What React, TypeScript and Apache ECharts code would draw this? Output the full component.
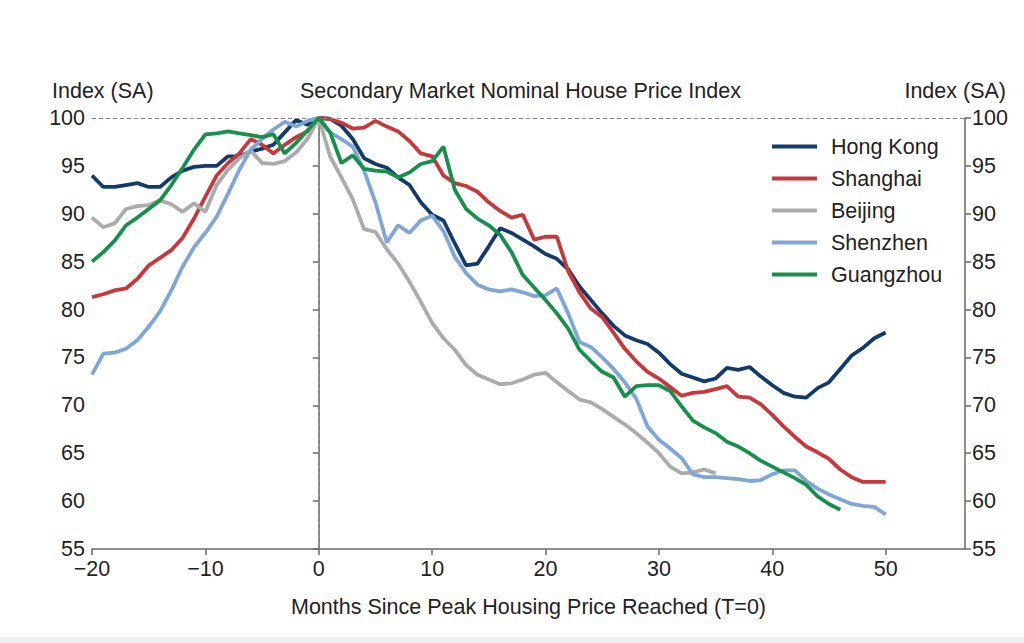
import React, { useEffect, useRef } from "react";
import * as echarts from "echarts";

// Months relative to the peak (T=0); each series starts at T = -20.
const START_MONTH = -20;
const X_TICKS = [-20, -10, 0, 10, 20, 30, 40, 50];

const hongKong = [
  94, 92.8, 92.8, 93, 93.2, 92.8, 92.8, 93.8, 94.5, 94.9,
  95, 95, 96, 96, 96.5, 96.8, 97.2, 98.5, 99.8, 99.3,
  100, 99.9, 99.2, 97.8, 95.8, 95.2, 94.8, 93.8, 93, 91.2,
  89.9, 89.3, 86.9, 84.6, 84.8, 86.6, 88.5, 88, 87.3, 86.6,
  85.8, 85.3, 84.2, 82.4, 81, 79.6, 78.3, 77.3, 76.8, 76.4,
  75.5, 74.3, 73.3, 72.9, 72.5, 72.8, 73.9, 73.7, 74, 73,
  72.1, 71.3, 70.9, 70.8, 71.8, 72.4, 73.8, 75.2, 76, 77, 77.6,
];

const shanghai = [
  81.3, 81.6, 82, 82.2, 83.2, 84.6, 85.4, 86.2, 87.5, 89.5,
  91.8, 94, 95.3, 96.3, 97.8, 97.2, 96.3, 97.2, 98, 98.6,
  100, 99.9, 99.5, 98.9, 99, 99.7, 99.1, 98.6, 97.6, 96.3,
  96, 94, 93.2, 92.9, 92.3, 91.2, 90.3, 89.6, 89.9, 87.3,
  87.6, 87.6, 84, 81.8, 80.1, 79.2, 77.6, 75.9, 74.6, 73.5,
  72.8, 71.9, 71, 71.3, 71.4, 71.7, 72, 70.9, 70.8, 70.1,
  69, 67.8, 66.7, 65.7, 65.1, 64.4, 63.3, 62.5, 62, 62, 62,
];

const beijing = [
  89.6, 88.6, 89, 90.5, 90.8, 90.9, 91.4, 91, 90.2, 91.1,
  90.2, 93, 94.6, 95.8, 96.6, 95.3, 95.2, 95.5, 96.4, 97.8,
  100, 96, 93.8, 91.5, 88.4, 88.1, 86.3, 84.8, 82.9, 80.8,
  78.6, 77, 75.8, 74.2, 73.2, 72.7, 72.2, 72.3, 72.7, 73.2,
  73.4, 72.4, 71.5, 70.6, 70.3, 69.6, 68.8, 68, 67.1, 66.1,
  65, 63.6, 62.9, 63, 63.3, 62.9,
];

const shenzhen = [
  73.2, 75.4, 75.5, 75.9, 76.8, 78.2, 79.8, 82, 84.5, 86.5,
  88, 89.7, 92.1, 94.6, 96.7, 97.8, 98.8, 99.6, 99.1, 99.7,
  100, 98.5, 97.8, 97, 94.5, 91.2, 87, 88.8, 88, 89.3,
  89.8, 88.2, 85.5, 83.8, 82.6, 82.1, 81.9, 82.1, 81.8, 81.4,
  81.5, 82.2, 79.6, 76.6, 76.1, 75, 73.8, 72.4, 70.7, 67.8,
  66.4, 65.5, 64.5, 62.8, 62.5, 62.5, 62.4, 62.3, 62.1, 62.2,
  62.8, 63.2, 63.2, 62.1, 61.3, 60.7, 60.2, 59.7, 59.5, 59.4, 58.6,
];

const guangzhou = [
  85, 86, 87.2, 88.8, 89.6, 90.5, 91.4, 93, 94.8, 96.7,
  98.3, 98.4, 98.6, 98.4, 98.2, 98, 98.3, 96.3, 97.4, 98.7,
  100, 98.5, 95.3, 96.1, 94.7, 94.5, 94.4, 93.8, 94.3, 95.2,
  95.5, 97, 92.5, 90.5, 89.5, 88.8, 87.8, 86, 83.6, 82.3,
  81, 79.6, 78, 75.8, 74.6, 73.5, 72.9, 70.9, 72, 72.1,
  72.1, 71.5, 69.9, 68.4, 67.7, 67.1, 66.2, 65.7, 65, 64.2,
  63.6, 63, 62.4, 61.7, 60.5, 59.7, 59.1,
];

const cities = [
  { name: "Hong Kong", values: hongKong, color: "#123b68" },
  { name: "Shanghai", values: shanghai, color: "#c8373b" },
  { name: "Beijing", values: beijing, color: "#ababab" },
  { name: "Shenzhen", values: shenzhen, color: "#7fa6d6" },
  { name: "Guangzhou", values: guangzhou, color: "#16904a" },
];

const FONT = "'Liberation Sans', Arial, sans-serif";
const FONT_SIZE = 21.5;
const TEXT = "#222";
const AXIS = "#6a6a6a";

const withMonths = (values: number[]) =>
  values.map((v, i) => [START_MONTH + i, v]);

export default function App() {
  const ref = useRef<HTMLDivElement>(null);

  useEffect(() => {
    if (!ref.current) return;
    const chart = echarts.init(ref.current, undefined, { renderer: "svg" });

    const yAxisBase = {
      type: "value" as const,
      min: 55,
      max: 100,
      interval: 5,
      axisLine: { show: true, lineStyle: { color: AXIS, width: 1.5 } },
      axisTick: { show: true, length: 6, lineStyle: { color: AXIS, width: 1.5 } },
      splitLine: { show: false },
      axisLabel: { color: TEXT, fontSize: FONT_SIZE, fontFamily: FONT, margin: 7 },
    };

    const series: any[] = cities.map((c, idx) => ({
      name: c.name,
      type: "line",
      data: withMonths(c.values),
      showSymbol: false,
      symbol: "none",
      lineStyle: { color: c.color, width: 3.8 },
      itemStyle: { color: c.color },
      z: 3 + idx,
    }));

    // Reference lines: the index peak (100) and the peak month (T=0)
    series.push({
      name: "ref",
      type: "line",
      data: [],
      silent: true,
      markLine: {
        silent: true,
        symbol: "none",
        label: { show: false },
        lineStyle: { color: "#808080", width: 1, type: [4, 3] },
        data: [{ xAxis: 0 }, { yAxis: 100 }],
      },
      z: 2,
    });

    chart.setOption({
      animation: false,
      backgroundColor: "#ffffff",
      grid: { left: 92, right: 59, top: 118, bottom: 94, containLabel: false },
      xAxis: {
        type: "value",
        min: -20,
        max: 57,
        interval: 10,
        axisLine: { show: true, onZero: false, lineStyle: { color: AXIS, width: 1.5 } },
        axisTick: {
          show: true,
          length: 6,
          customValues: X_TICKS,
          lineStyle: { color: AXIS, width: 1.5 },
        },
        axisLabel: {
          color: TEXT,
          fontSize: FONT_SIZE,
          fontFamily: FONT,
          margin: 9,
          customValues: X_TICKS,
          formatter: (v: number) => (v < 0 ? "\u2212" + Math.abs(v) : String(v)),
        },
        splitLine: { show: false },
        name: "Months Since Peak Housing Price Reached (T=0)",
        nameLocation: "middle",
        nameGap: 47,
        nameTextStyle: { color: TEXT, fontSize: FONT_SIZE, fontFamily: FONT },
      },
      yAxis: [
        { ...yAxisBase, position: "left" },
        { ...yAxisBase, position: "right" },
      ],
      legend: {
        orient: "vertical",
        left: 767,
        top: 130,
        itemWidth: 45,
        itemHeight: 4,
        itemGap: 9,
        icon: "rect",
        data: cities.map((c) => c.name),
        textStyle: {
          color: TEXT,
          fontSize: FONT_SIZE,
          fontFamily: FONT,
          lineHeight: 23,
          padding: [0, 0, 0, 9],
        },
      },
      graphic: [
        {
          type: "text",
          left: 52,
          top: 80,
          style: { text: "Index (SA)", fill: TEXT, font: `${FONT_SIZE}px ${FONT}` },
        },
        {
          type: "text",
          left: 300,
          top: 80,
          style: {
            text: "Secondary Market Nominal House Price Index",
            fill: TEXT,
            font: `${FONT_SIZE}px ${FONT}`,
          },
        },
        {
          type: "text",
          right: 18,
          top: 80,
          style: { text: "Index (SA)", fill: TEXT, font: `${FONT_SIZE}px ${FONT}` },
        },
        {
          type: "rect",
          left: 0,
          bottom: 0,
          shape: { width: 1024, height: 6 },
          style: { fill: "#f0f0f0" },
          silent: true,
        },
      ],
      series,
    });

    return () => chart.dispose();
  }, []);

  return (
    <div
      ref={ref}
      style={{ position: "fixed", left: 0, top: 0, width: 1024, height: 643, background: "#fff" }}
    />
  );
}
